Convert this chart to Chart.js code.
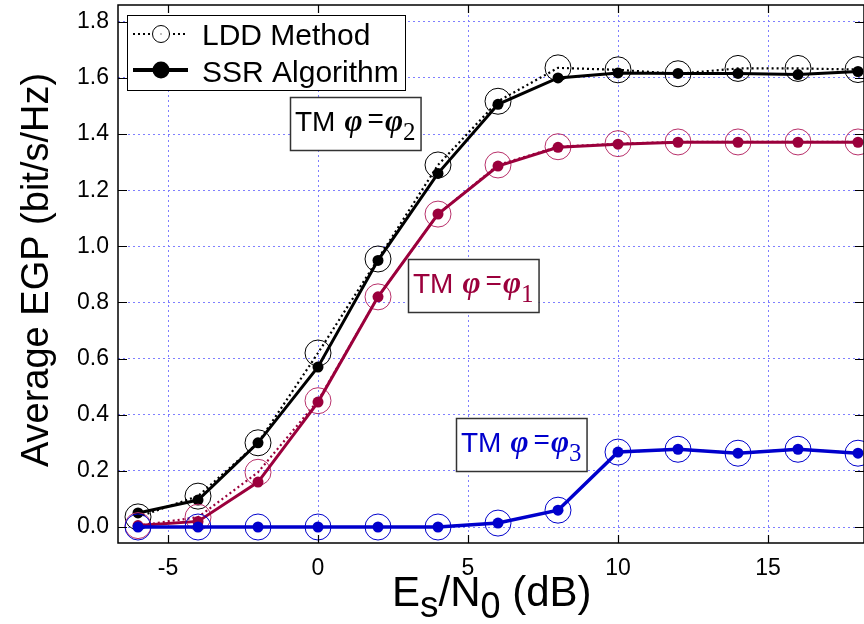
<!DOCTYPE html>
<html><head><meta charset="utf-8">
<script src="https://cdn.jsdelivr.net/npm/chart.js@4/dist/chart.umd.min.js"></script>
<style>html,body{margin:0;padding:0;background:#fff;overflow:hidden}#wrap{width:864px;height:624px;position:relative}</style>
</head><body><div id="wrap"><canvas id="c" width="864" height="624"></canvas></div>
<script>
// ---- data ----
const snr = [-6, -4, -2, 0, 2, 4, 6, 8, 10, 12, 14, 16, 18];
const lddPhi2 = [0.036, 0.11, 0.30, 0.62, 0.955, 1.29, 1.517, 1.636, 1.629, 1.615, 1.634, 1.634, 1.63];
const ssrPhi2 = [0.05, 0.096, 0.30, 0.57, 0.95, 1.26, 1.506, 1.60, 1.618, 1.616, 1.616, 1.612, 1.623];
const lddPhi1 = [0.005, 0.035, 0.195, 0.45, 0.82, 1.115, 1.29, 1.355, 1.366, 1.372, 1.372, 1.372, 1.372];
const ssrPhi1 = [0.005, 0.02, 0.16, 0.445, 0.82, 1.115, 1.286, 1.353, 1.364, 1.371, 1.371, 1.371, 1.371];
const lddPhi3 = [0, 0, 0, 0, 0, 0, 0.014, 0.06, 0.267, 0.277, 0.263, 0.277, 0.263];
const ssrPhi3 = [0, 0, 0, 0, 0, 0, 0.014, 0.06, 0.267, 0.277, 0.263, 0.277, 0.263];
const xTicks = [-5, 0, 5, 10, 15];
const yTicks = [0, 0.2, 0.4, 0.6, 0.8, 1.0, 1.2, 1.4, 1.6, 1.8];
const legendLabels = ['LDD Method', 'SSR Algorithm'];
const annoSubs = ['2', '1', '3'];

// ---- styles ----
const BLACK = '#000000', CRIMSON = '#9b003c', CRIMSON_LIGHT = '#b8306a', BLUE = '#0000cc', GRID = '#7f7fff';
const SANS = '"Liberation Sans", Arial, sans-serif';
const SERIF = '"Liberation Serif", "Times New Roman", serif';

function pts(ys) { return snr.map((x, i) => ({x: x, y: ys[i]})); }
function ldd(ys, color, ptColor, order) {
  return {data: pts(ys), borderColor: color, borderWidth: 2.2, borderDash: [2, 3],
    pointRadius: 13, pointBorderWidth: 1, pointBorderColor: ptColor,
    pointBackgroundColor: 'rgba(0,0,0,0)', fill: false, tension: 0, clip: false, order: order};
}
function ssr(ys, color, width, order) {
  return {data: pts(ys), borderColor: color, borderWidth: width,
    pointRadius: 5.5, pointBorderWidth: 0, pointBackgroundColor: color,
    fill: false, tension: 0, clip: false, order: order};
}

function drawTM(ctx, x, y, sub, color) {
  ctx.save();
  ctx.fillStyle = color; ctx.textAlign = 'left'; ctx.textBaseline = 'alphabetic';
  let cx = x;
  ctx.font = '28px ' + SANS; ctx.fillText('TM', cx, y); cx += ctx.measureText('TM').width + 9;
  ctx.font = 'bold italic 31px ' + SERIF; ctx.fillText('φ', cx, y); cx += ctx.measureText('φ').width + 5;
  ctx.font = '28px ' + SANS; ctx.fillText('=', cx, y - 3); cx += ctx.measureText('=').width + 1;
  ctx.font = 'bold italic 31px ' + SERIF; ctx.fillText('φ', cx, y); cx += ctx.measureText('φ').width;
  ctx.font = '25px ' + SERIF; ctx.fillText(sub, cx, y + 9); cx += ctx.measureText(sub).width;
  ctx.restore();
  return cx - x;
}

const overlay = {
  id: 'overlay',
  afterDatasetsDraw(chart) {
    const ctx = chart.ctx, a = chart.chartArea;
    const xs = chart.scales.x, ys = chart.scales.y;
    ctx.save();
    // frame
    ctx.strokeStyle = '#000'; ctx.lineWidth = 1.5; ctx.setLineDash([]);
    ctx.strokeRect(a.left, a.top, a.right - a.left, a.bottom - a.top);
    // inward ticks
    ctx.lineWidth = 1.2;
    ctx.beginPath();
    xTicks.forEach(v => {
      const p = Math.round(xs.getPixelForValue(v)) + 0.5;
      ctx.moveTo(p, a.bottom); ctx.lineTo(p, a.bottom - 8);
      ctx.moveTo(p, a.top); ctx.lineTo(p, a.top + 8);
    });
    yTicks.forEach(v => {
      const p = Math.round(ys.getPixelForValue(v)) + 0.5;
      ctx.moveTo(a.left, p); ctx.lineTo(a.left + 9, p);
      ctx.moveTo(a.right, p); ctx.lineTo(a.right - 9, p);
    });
    ctx.stroke();

    // legend
    const lx = a.left + 9, ly = a.top + 10, lw = 278, lh = 75;
    ctx.fillStyle = '#fff'; ctx.fillRect(lx, ly, lw, lh);
    ctx.strokeStyle = '#000'; ctx.lineWidth = 1; ctx.strokeRect(lx + 0.5, ly + 0.5, lw, lh);
    const r1 = ly + 19, r2 = ly + 55;
    ctx.lineWidth = 2.2; ctx.setLineDash([2, 3]);
    ctx.beginPath(); ctx.moveTo(lx + 6, r1); ctx.lineTo(lx + 61, r1); ctx.stroke();
    ctx.setLineDash([]);
    ctx.fillStyle = '#fff'; ctx.lineWidth = 1;
    ctx.beginPath(); ctx.arc(lx + 34, r1, 8.5, 0, Math.PI * 2); ctx.fill(); ctx.stroke();
    ctx.fillStyle = '#000'; ctx.fillRect(lx + 33.5, r1 - 0.5, 1, 1);
    ctx.lineWidth = 4;
    ctx.beginPath(); ctx.moveTo(lx + 6, r2); ctx.lineTo(lx + 61, r2); ctx.stroke();
    ctx.beginPath(); ctx.arc(lx + 34, r2, 8.5, 0, Math.PI * 2); ctx.fill();
    ctx.font = '30px ' + SANS; ctx.textBaseline = 'alphabetic'; ctx.textAlign = 'left';
    ctx.fillText(legendLabels[0], lx + 75, ly + 30);
    ctx.fillText(legendLabels[1], lx + 75, ly + 67);

    // annotations (anchored in data units)
    const annos = [
      {x: -0.93, y: 1.532, color: BLACK, sub: annoSubs[0]},
      {x: 3.0, y: 0.955, color: CRIMSON, sub: annoSubs[1]},
      {x: 4.6, y: 0.388, color: BLUE, sub: annoSubs[2]}
    ];
    const off = document.createElement('canvas').getContext('2d');
    annos.forEach(an => {
      const bx = Math.round(xs.getPixelForValue(an.x)), by = Math.round(ys.getPixelForValue(an.y));
      const w = drawTM(off, 0, 0, an.sub, an.color);
      ctx.fillStyle = '#fff'; ctx.fillRect(bx, by, w + 10, 53);
      ctx.strokeStyle = '#333'; ctx.lineWidth = 1.5; ctx.strokeRect(bx + 0.5, by + 0.5, w + 10, 53);
      drawTM(ctx, bx + 5, by + 34, an.sub, an.color);
    });

    // axis titles
    ctx.fillStyle = '#000';
    ctx.save();
    ctx.translate(48, 270); ctx.rotate(-Math.PI / 2);
    ctx.font = '38px ' + SANS; ctx.textAlign = 'center'; ctx.textBaseline = 'alphabetic';
    ctx.fillText('Average EGP (bit/s/Hz)', 0, 0);
    ctx.restore();
    let tx = 392; const tb = 606;
    ctx.textAlign = 'left'; ctx.textBaseline = 'alphabetic';
    const seg = [['E', 42, 0], ['s', 37, 11], ['/', 42, 0], ['N', 42, 0], ['0', 36, 12], [' (dB)', 42, 0]];
    seg.forEach(s => { ctx.font = s[1] + 'px ' + SANS; ctx.fillText(s[0], tx, tb + s[2]); tx += ctx.measureText(s[0]).width; });
    ctx.restore();
  }
};

new Chart(document.getElementById('c'), {
  type: 'line',
  data: {datasets: [
    ssr(ssrPhi3, BLUE, 3.5, 0), ldd(lddPhi3, BLUE, BLUE, 1),
    ssr(ssrPhi1, CRIMSON, 3, 2), ldd(lddPhi1, CRIMSON, CRIMSON_LIGHT, 3),
    ssr(ssrPhi2, BLACK, 3, 4), ldd(lddPhi2, BLACK, BLACK, 5)
  ]},
  options: {
    responsive: false, animation: false, devicePixelRatio: 1,
    layout: {autoPadding: false, padding: {top: 5, right: 0, left: 0, bottom: 0}},
    plugins: {legend: {display: false}, tooltip: {enabled: false}, title: {display: false}},
    scales: {
      x: {type: 'linear', min: -6.667, max: 18.2,
        afterBuildTicks: s => { s.ticks = xTicks.map(v => ({value: v})); },
        afterFit: s => { s.height = 81; s.paddingLeft = 0; s.paddingRight = 0; },
        grid: {color: GRID, lineWidth: 1, drawTicks: false},
        border: {display: false, dash: [2, 3]},
        ticks: {padding: 12, color: '#000', font: {family: SANS, size: 23}, callback: v => String(v)}
      },
      y: {type: 'linear', min: -0.057, max: 1.86,
        afterBuildTicks: s => { s.ticks = yTicks.map(v => ({value: v})); },
        afterFit: s => { s.width = 118; s.paddingTop = 0; s.paddingBottom = 0; },
        grid: {color: GRID, lineWidth: 1, drawTicks: false},
        border: {display: false, dash: [2, 3]},
        ticks: {padding: 9, color: '#000', font: {family: SANS, size: 23}, callback: v => v.toFixed(1)}
      }
    }
  },
  plugins: [overlay]
});
</script></body></html>
